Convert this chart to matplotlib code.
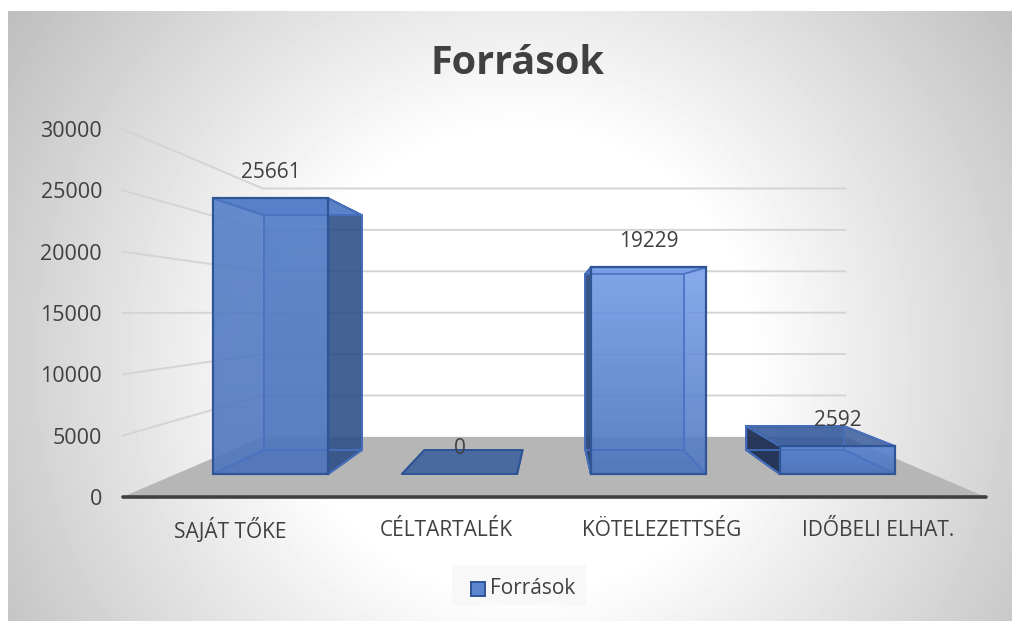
"""Forrasok 3D column chart, drawn with a small perspective projection."""

import matplotlib

matplotlib.use("Agg")
import matplotlib.pyplot as plt
import numpy as np
from matplotlib.patches import Polygon, Rectangle

plt.rcParams["font.family"] = ["Open Sans", "DejaVu Sans"]

categories = ["SAJÁT TŐKE", "CÉLTARTALÉK", "KÖTELEZETTSÉG", "IDŐBELI ELHAT."]
values = [25661, 0, 19229, 2592]
value_ticks = [0, 5000, 10000, 15000, 20000, 25000, 30000]
series_name = "Források"

W, H = 1016, 621
TEXT = "#404040"
EDGE = "#2f5597"

# perspective: vanishing point, front floor edge, depth scale
VX, VY = 554.0, 312.0
FLOOR_Y = 185.0
HALF_W = 431.5
PX_PER_UNIT = 368.0 / 30000
BACK_S = 0.675
BAR_NEAR_S, BAR_FAR_S = 0.8757, 0.746
BAR_W = 131.5


def proj(u, v, s):
    """u = horizontal position on the front plane, v = value, s = depth scale."""
    return (VX + u * s, VY + (FLOOR_Y - v * PX_PER_UNIT) * s)


def background(ax):
    yy, xx = np.mgrid[0:621, 0:1016]
    r = np.hypot(xx - 520, yy - 360)
    img = 255 - 0.168 * np.clip(r - 230, 0, None)
    ax.imshow(img, cmap="gray", vmin=0, vmax=255, extent=(0, W, H, 0),
              aspect="auto", zorder=0)
    ax.add_patch(Rectangle((0, 0), W, 11, fc="white", ec="none", zorder=0.5))
    ax.add_patch(Rectangle((0, 0), 8, H, fc="white", ec="none", zorder=0.5))
    ax.add_patch(Rectangle((1012, 0), 4, H, fc="white", ec="none", zorder=0.5))


def draw_bar(ax, u0, value, front_top, front_bottom, side_color, side_alpha,
             top_color, top_alpha):
    u1 = u0 + BAR_W
    n, f = BAR_NEAR_S, BAR_FAR_S
    z = 3

    def face(pts, fc, alpha, zo=z):
        ax.add_patch(Polygon(pts, closed=True, fc=matplotlib.colors.to_rgba(fc, alpha),
                             ec=EDGE, lw=1.4, joinstyle="round", zorder=zo))

    # back and floor of the box
    face([proj(u0, 0, f), proj(u1, 0, f), proj(u1, value, f), proj(u0, value, f)], "#4472c4", 0.35)
    face([proj(u0, 0, n), proj(u1, 0, n), proj(u1, 0, f), proj(u0, 0, f)], "#2f5597", 0.4)
    # whichever side is visible from the vanishing point
    if u1 < 0:
        side = [proj(u1, 0, n), proj(u1, 0, f), proj(u1, value, f), proj(u1, value, n)]
    else:
        side = [proj(u0, 0, n), proj(u0, 0, f), proj(u0, value, f), proj(u0, value, n)]
    if value > 0:
        face(side, side_color, side_alpha)
    face([proj(u0, value, n), proj(u1, value, n), proj(u1, value, f), proj(u0, value, f)],
         top_color, top_alpha)
    if value > 0:
        x0, y1 = proj(u0, 0, n)
        x1, y0 = proj(u1, value, n)
        grad = np.linspace(0, 1, 64)[:, None, None]
        c0 = np.array(matplotlib.colors.to_rgb(front_top))
        c1 = np.array(matplotlib.colors.to_rgb(front_bottom))
        img = c0 * (1 - grad) + c1 * grad
        ax.imshow(img, extent=(x0, x1, y1, y0), aspect="auto", alpha=0.9, zorder=z + 0.1)
        # inner edges show through the front face
        for a, b in [(proj(u0, 0, f), proj(u1, 0, f)),
                     (proj(u0, value, f), proj(u1, value, f)),
                     (proj(u0, 0, f), proj(u0, value, f)),
                     (proj(u1, 0, f), proj(u1, value, f)),
                     (proj(u0, 0, n), proj(u0, 0, f)),
                     (proj(u1, 0, n), proj(u1, 0, f)),
                     (proj(u0, value, n), proj(u0, value, f)),
                     (proj(u1, value, n), proj(u1, value, f))]:
            ax.plot([a[0], b[0]], [a[1], b[1]], color="#4a72c0", lw=1.2, zorder=z + 0.2)
        ax.add_patch(Rectangle((x0, y0), x1 - x0, y1 - y0, fc="none", ec=EDGE, lw=1.6,
                               zorder=z + 0.3))


fig = plt.figure(figsize=(W / 100, H / 100), dpi=100)
ax = fig.add_axes([0, 0, 1, 1])
background(ax)

# walls: side lines run from the front edge to the back wall
for t in value_ticks:
    if t > 0:
        xs, ys = zip(proj(-HALF_W, t, 1.0), proj(-HALF_W, t, BACK_S), proj(HALF_W, t, BACK_S))
        ax.plot(xs, ys, color="#d4d4d4", lw=1.4, zorder=1)
    ax.text(102, proj(0, t, 1.0)[1], str(t), ha="right", va="center_baseline",
            fontsize=15.5, color=TEXT, zorder=6)

ax.add_patch(Polygon([proj(-HALF_W, 0, 1.0), proj(HALF_W, 0, 1.0),
                      proj(HALF_W, 0, BACK_S), proj(-HALF_W, 0, BACK_S)],
                     closed=True, fc="#b6b6b6", ec="none", zorder=2))
xa, ya = zip(proj(-HALF_W, 0, 1.0), proj(HALF_W, 0, 1.0))
ax.plot(xa, ya, color=TEXT, lw=2.6, solid_capstyle="round", zorder=5)

styles = [
    ("#5580c9", "#4f76bd", "#2f4f85", 0.85, "#5c85cf", 0.9),
    ("#4f76bd", "#4f76bd", "#2f4f85", 0.85, "#34599c", 0.7),
    ("#79a2ea", "#5078c0", "#23406f", 0.85, "#5c85cf", 0.9),
    ("#5682d2", "#4c74bd", "#1c2c50", 0.9, "#2f5597", 0.8),
]
slot = 2 * HALF_W / len(categories)
for i, (name, val) in enumerate(zip(categories, values)):
    uc = -HALF_W + slot * (i + 0.5)
    draw_bar(ax, uc - BAR_W / 2, val, *styles[i])
    ax.text(VX + uc, 530, name, ha="center", va="center", fontsize=15, color=TEXT, zorder=6)
    lx, ly = proj(uc, val, BAR_NEAR_S)
    ax.text(lx, ly - 26, str(val), ha="center", va="center", fontsize=15, color=TEXT, zorder=6)

ax.text(518, 64, series_name, ha="center", va="center", fontsize=28.5, fontweight="bold",
        color=TEXT, zorder=6)

# legend
ax.add_patch(Rectangle((452, 565), 134, 40, fc="#f4f4f4", alpha=0.55, ec="none", zorder=2))
ax.add_patch(Rectangle((471, 582), 14, 14, fc="#5c85cf", ec=EDGE, lw=1.4, zorder=6))
ax.text(490, 588, series_name, ha="left", va="center", fontsize=15, color=TEXT, zorder=6)

ax.set_xlim(0, W)
ax.set_ylim(H, 0)
ax.axis("off")
fig.savefig("out.png", dpi=100)
